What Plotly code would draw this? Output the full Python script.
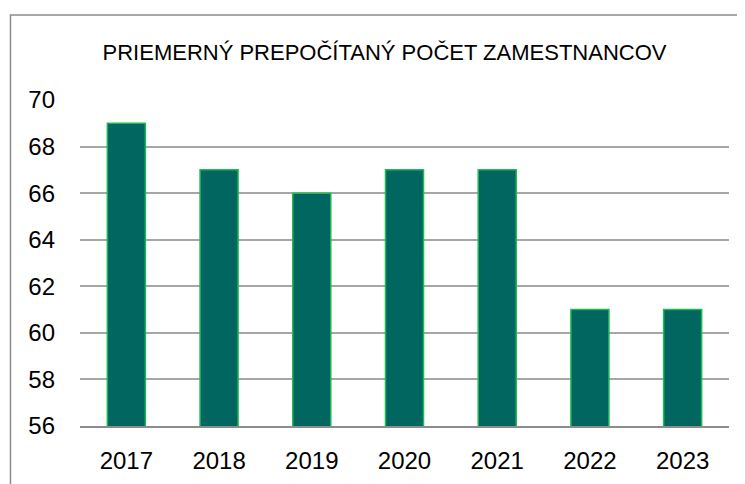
import plotly.graph_objects as go

years = ["2017", "2018", "2019", "2020", "2021", "2022", "2023"]
employees = [69, 67, 66, 67, 67, 61, 61]
y_ticks = [56, 58, 60, 62, 64, 66, 68, 70]
title_text = "PRIEMERNÝ PREPOČÍTANÝ POČET ZAMESTNANCOV"

# page body adds an 8px offset; target coordinates are window pixels
OFF = 8
W, H = 745, 484
L, R, T, B = 79.6 - OFF, 729.4 - OFF, 100.0 - OFF, 425.7 - OFF
pw, ph = R - L, B - T

fig = go.Figure(go.Bar(
    x=years, y=employees,
    marker=dict(color="#016660", line=dict(color="#1DB954", width=1.5)),
    width=0.41,
))

font_family = "Liberation Sans, Arial, sans-serif"
fig.update_layout(
    width=W, height=H,
    margin=dict(l=L, r=W - R, t=T, b=H - B, pad=0),
    paper_bgcolor="white", plot_bgcolor="white",
    showlegend=False,
    font=dict(family=font_family, size=24, color="#000000"),
    title=dict(text=title_text, x=(384.5 - OFF) / W, xanchor="center", xref="container",
               y=1 - (52 - OFF) / H, yanchor="middle", yref="container",
               font=dict(size=22, family=font_family, color="#000000")),
    xaxis=dict(showgrid=False, showline=True, linecolor="#8C8C8C", linewidth=1.5,
               ticks="", ticklabelstandoff=12, tickfont=dict(size=24)),
    yaxis=dict(range=[56, 70], tickvals=y_ticks, showgrid=True, gridcolor="#A6A6A6",
               gridwidth=1.5, zeroline=False, showline=False, ticks="",
               ticklabelstandoff=24, tickfont=dict(size=24)),
)

# outer chart border (gray frame, clipped at right and bottom)
fig.add_shape(type="rect", xref="paper", yref="paper",
              x0=(10 - OFF - L) / pw, x1=(770 - L) / pw,
              y0=(B - 520) / ph, y1=(B - (15 - OFF)) / ph,
              line=dict(color="#8C8C8C", width=1.5), fillcolor="rgba(0,0,0,0)", layer="below")

fig.write_html("out.html")
